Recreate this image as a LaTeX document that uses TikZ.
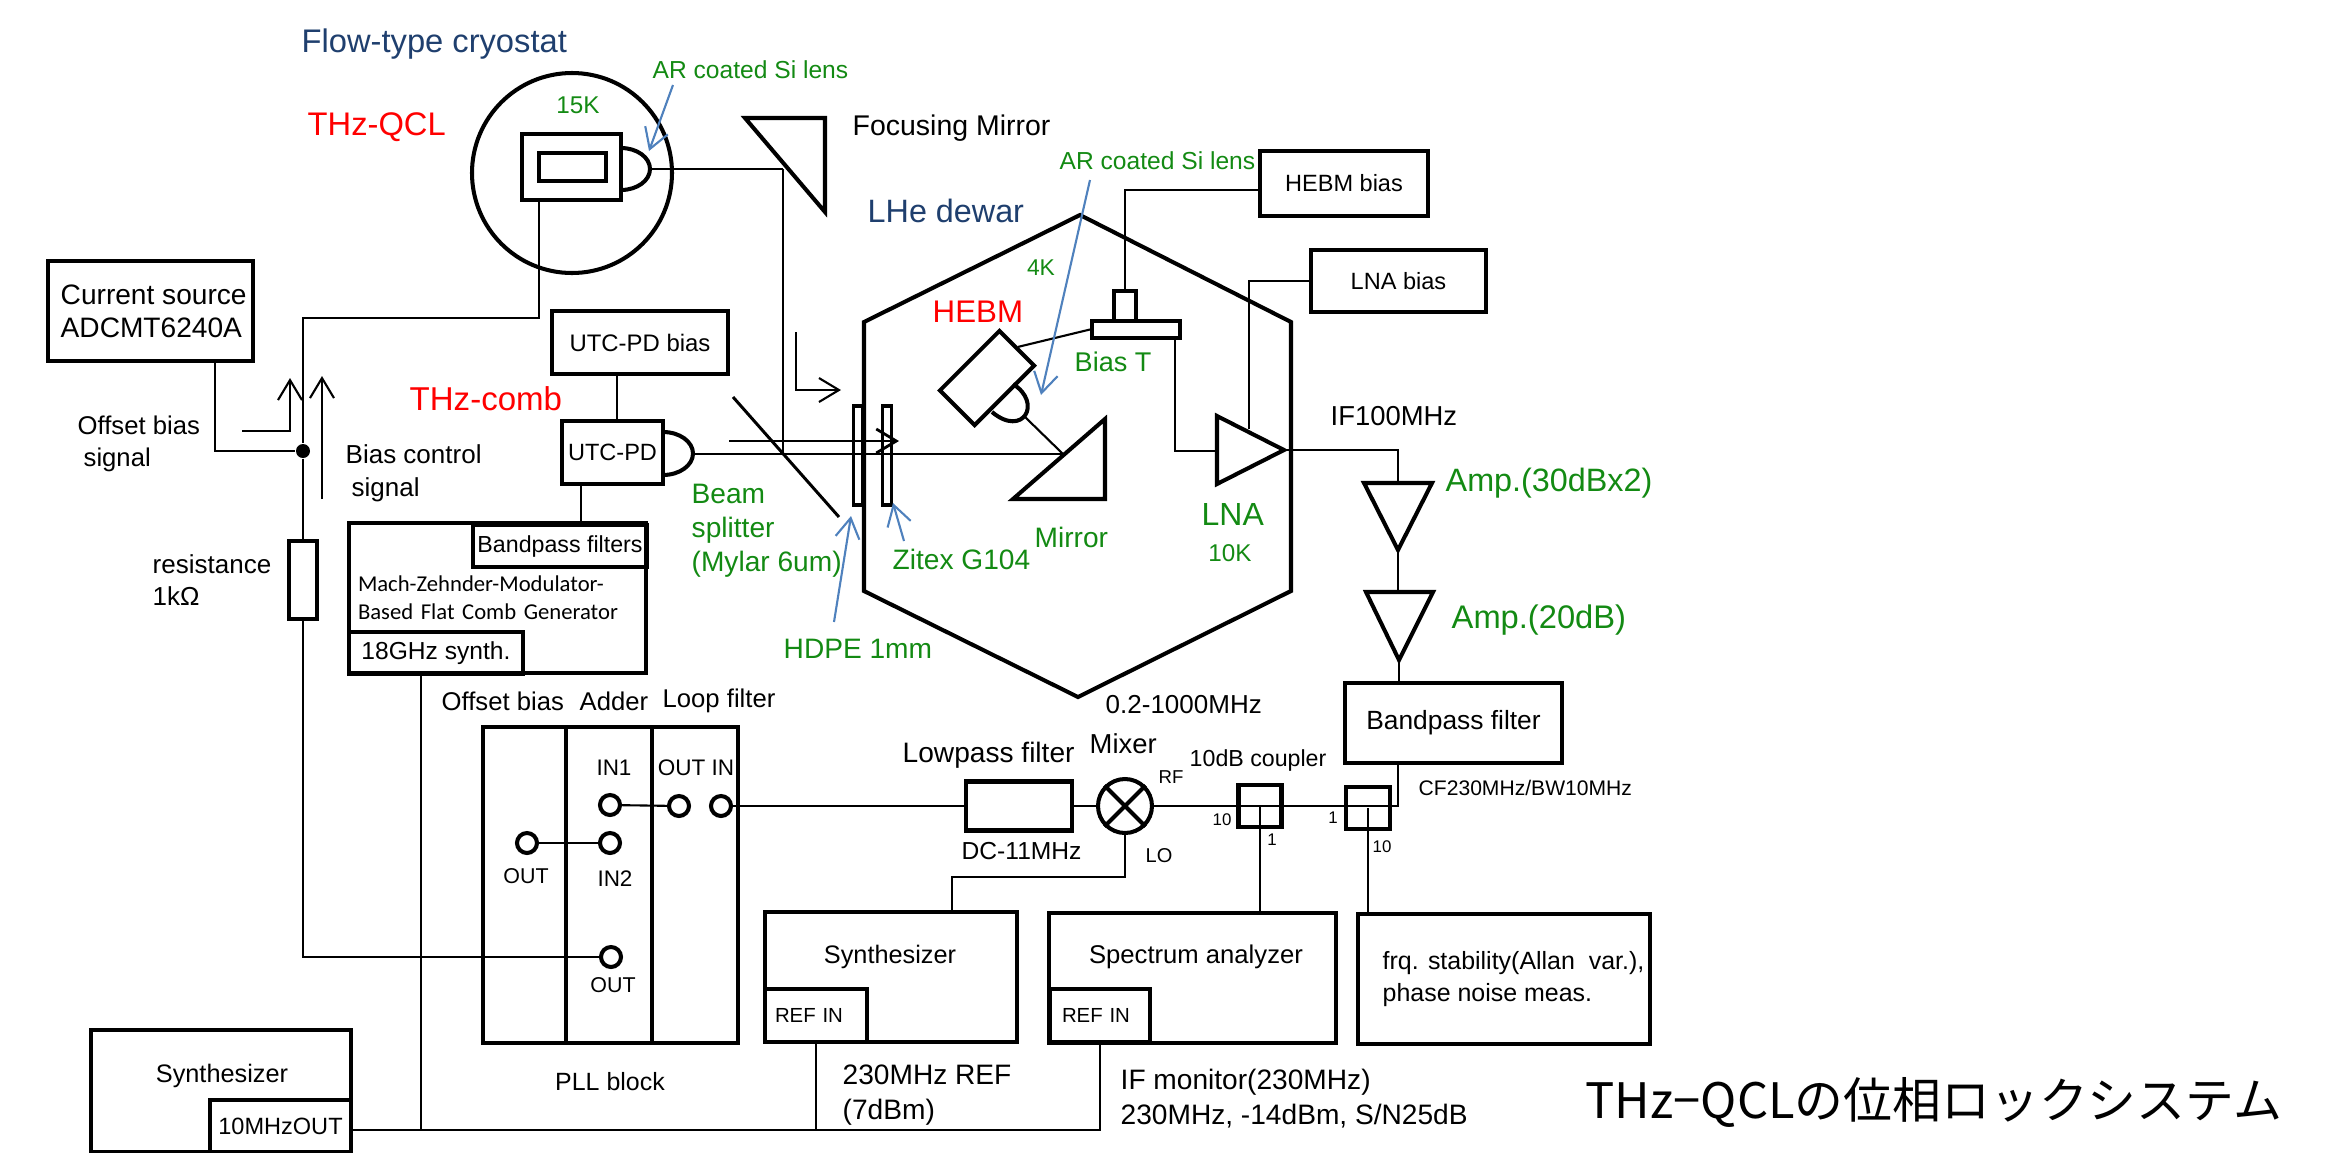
\documentclass[tikz,border=0pt]{standalone}
\usepackage{fontspec}
\setmainfont{Liberation Sans}
\newfontfamily\calfont{Carlito}
\newfontfamily\cjkfont{Noto Sans CJK JP}
\usetikzlibrary{arrows.meta}
\definecolor{QCLGreen}{HTML}{138A13}
\definecolor{QCLRed}{HTML}{FF0000}
\definecolor{QCLNavy}{HTML}{1F3F6E}
\definecolor{QCLBlue}{HTML}{4F81BD}

\begin{document}
\begin{tikzpicture}[x=0.1mm,y=-0.1mm,
    >={Straight Barb[length=2mm,width=2.4mm]},
    lbl/.style={font=\fontsize{#1}{#1}\selectfont,inner sep=0pt,anchor=west,align=left},
    ctr/.style={font=\fontsize{#1}{#1}\selectfont,inner sep=0pt,align=center},
    blk/.style={draw,line width=1.15pt,inner sep=0pt,align=center},
    thk/.style={line width=1.15pt},
    wire/.style={line width=0.6pt},
    sig/.style={->,line width=0.6pt},
    note/.style={->,color=QCLBlue,line width=0.6pt},
    port/.style={circle,draw,line width=1.15pt,minimum size=2mm,inner sep=0pt},
    grn/.style={text=QCLGreen},
    rdd/.style={text=QCLRed},
    nvy/.style={text=QCLNavy}]
  \useasboundingbox (0,0) rectangle (2346,1153);

  \node[lbl=9.3,nvy] (lcryo) at (301,44) {Flow-type cryostat};
  \node[lbl=7,grn] (llensa) at (652,70) {AR coated Si lens};
  \node[ctr=6.9,grn] (l15k) at (578,105) {15K};
  \node[lbl=9.3,rdd] (lqcl) at (307,127) {THz-QCL};
  \node[lbl=8.1] (lfocus) at (852,128) {Focusing Mirror};
  \node[lbl=9.2,nvy] (ldewar) at (867,211) {LHe dewar};
  \node[lbl=7,grn] (llensb) at (1059,161) {AR coated Si lens};
  \node[ctr=6.5,grn] (l4k) at (1041,268) {4K};
  \node[lbl=8.9,rdd] (lhebm) at (932,312) {HEBM};
  \node[lbl=9.4,rdd] (lcomb) at (409,399) {THz-comb};
  \node[lbl=7.7,grn] (lbiast) at (1074,362) {Bias T};
  \node[lbl=7.8] (lif) at (1330,416) {IF100MHz};
  \node[lbl=9.2,grn] (lampa) at (1445,483) {Amp.(30dBx2)};
  \node[lbl=9.3,grn] (lampb) at (1451,620) {Amp.(20dB)};
  \node[lbl=9.1,grn] (llna) at (1201,514) {LNA};
  \node[ctr=6.9,grn] (l10k) at (1230,553) {10K};
  \node[lbl=8,grn] (lmirror) at (1034,537) {Mirror};
  \node[lbl=8,grn] (lzitex) at (892,559) {Zitex G104};
  \node[lbl=8,grn] (lbeam) at (691,531) {Beam\\[1.7pt]splitter\\[1.7pt](Mylar 6um)};
  \node[lbl=8,grn] (lhdpe) at (783,649) {HDPE 1mm};
  \node[lbl=7.3] (loffset) at (77,444) {Offset bias\\[1.8pt]\hspace*{0.6mm}signal};
  \node[lbl=7.4] (lctrl) at (345,473) {Bias control\\[2pt]\hspace*{0.6mm}signal};
  \node[lbl=7.4] (lres) at (152,580) {resistance\\[1.5pt]1kΩ};
  \node[lbl=7.4] (lband) at (1105,705) {0.2-1000MHz};
  \node[lbl=7.3] (lofs) at (441,701) {Offset bias};
  \node[lbl=7.3] (ladd) at (579,701) {Adder};
  \node[lbl=7.3] (lloop) at (662,701) {Loop filter};
  \node[lbl=8] (llow) at (902,755) {Lowpass filter};
  \node[lbl=7.8] (lmix) at (1089,744) {Mixer};
  \node[lbl=6.6] (lcoup) at (1189,760) {10dB coupler};
  \node[lbl=5.3] (lrf) at (1158,777) {RF};
  \node[lbl=5.7] (llo) at (1145,856) {LO};
  \node[lbl=7] (ldc) at (961,851) {DC-11MHz};
  \node[lbl=6] (lcf) at (1418,788) {CF230MHz/BW10MHz};
  \node[ctr=4.8] (lca) at (1222,820) {10};
  \node[ctr=4.8] (lcb) at (1272,840) {1};
  \node[ctr=4.8] (lcc) at (1333,818) {1};
  \node[ctr=4.8] (lcd) at (1382,847) {10};
  \node[ctr=6.4] (lin1) at (614,768) {IN1};
  \node[ctr=6.4] (lloopio) at (696,768) {OUT IN};
  \node[ctr=6.1] (lout1) at (526,876) {OUT};
  \node[ctr=6.4] (lin2) at (615,879) {IN2};
  \node[ctr=6.1] (lout2) at (613,985) {OUT};
  \node[ctr=7.1] (lpll) at (610,1082) {PLL block};
  \node[lbl=8] (lrefa) at (842,1095) {230MHz REF\\[2pt](7dBm)};
  \node[lbl=8] (lmon) at (1120,1099) {IF monitor(230MHz)\\[2pt]230MHz, -14dBm, S/N25dB};
  \node[lbl=13.9] (ltitle) at (1585,1102) {\cjkfont THz−QCLの位相ロックシステム};

  \node[blk,minimum width=20.5mm,minimum height=10mm] (csrc) at (150.5,311) {};
  \node[lbl=8] (lcsrc) at (60,311) {Current source\\[1.4pt]ADCMT6240A};
  \draw[thk] (572,173) circle (10mm);
  \node[blk,minimum width=9.9mm,minimum height=6.6mm] (qcl) at (571.5,167) {};
  \node[blk,line width=1pt,minimum width=6.7mm,minimum height=2.8mm] (qclin) at (572.5,167) {};
  \draw[thk] (621,148) arc[start angle=90,end angle=-90,x radius=2.9mm,y radius=2.1mm];
  \coordinate (qcllens) at (650,169);
  \coordinate (fhit) at (783,169);
  \draw[thk] (745,118) -- (825,118) -- (825,212) -- cycle;

  \node[blk,minimum width=17.6mm,minimum height=6.3mm,font=\fontsize{6.8}{6.8}\selectfont] (utcbias) at (640,342.5) {UTC-PD bias};
  \node[blk,minimum width=10.1mm,minimum height=6.3mm,font=\fontsize{6.7}{6.7}\selectfont] (utcpd) at (612.5,452.5) {UTC-PD};
  \draw[thk] (663,432) arc[start angle=90,end angle=-90,x radius=3mm,y radius=2.15mm];
  \coordinate (utclens) at (693,454);
  \node[blk,minimum width=29.7mm,minimum height=15mm,text width=27.9mm,align=left,font=\calfont\fontsize{6.45}{6.45}\selectfont] (comb) at (497.5,598) {Mach-Zehnder-Modulator-\\[1.5pt]Based Flat Comb Generator};
  \node[blk,minimum width=17.4mm,minimum height=4.2mm,font=\fontsize{6.6}{6.6}\selectfont] (bpfs) at (560,546) {Bandpass filters};
  \node[blk,minimum width=17.4mm,minimum height=4.2mm,font=\fontsize{7}{7}\selectfont] (syn18) at (436,653) {18GHz synth.};
  \node[blk,minimum width=2.8mm,minimum height=7.8mm] (res) at (303,580) {};
  \node[circle,fill,minimum size=1.4mm,inner sep=0pt] (dot) at (303,451) {};
  \coordinate (bustop) at (303,318);

  \draw[thk] (1080,215) -- (1291,322) -- (1291,591) -- (1078,697) -- (864,591) -- (864,322) -- cycle;
  \node[draw,line width=0.9pt,minimum width=0.9mm,minimum height=9.9mm,inner sep=0pt] (hdpe) at (858,455.5) {};
  \node[draw,line width=0.9pt,minimum width=0.9mm,minimum height=9.9mm,inner sep=0pt] (zitex) at (887,455.5) {};
  \coordinate (splita) at (733,397);
  \coordinate (splitb) at (839,517);
  \draw[line width=0.85pt] (splita) -- (splitb);

  \node[blk,rotate=45,minimum width=8.4mm,minimum height=4.9mm] (hebm) at (987,378) {};
  \draw[thk] (1013,384) .. controls (1043,403) and (1023,438) .. (992,412);
  \coordinate (hlens) at (1024,416);
  \coordinate (mhit) at (1063,454);
  \draw[thk] (1105,419) -- (1105,499) -- (1013,499) -- cycle;
  \node[blk,minimum width=2.2mm,minimum height=3mm] (tstem) at (1125,306) {};
  \node[blk,minimum width=8.8mm,minimum height=1.7mm] (tbar) at (1136,329.5) {};
  \node[blk,minimum width=16.8mm,minimum height=6.5mm,font=\fontsize{6.7}{6.7}\selectfont] (hebmbias) at (1344,183.5) {HEBM bias};
  \node[blk,minimum width=17.5mm,minimum height=6.2mm,font=\fontsize{6.7}{6.7}\selectfont] (lnabias) at (1398.5,281) {LNA bias};
  \coordinate (lnatop) at (1249,429);
  \coordinate (lnain) at (1217,451);
  \coordinate (lnaout) at (1284,450);
  \draw[thk] (1217,416) -- (lnaout) -- (1217,484) -- cycle;

  \coordinate (ampa) at (1398,483);
  \coordinate (ampatip) at (1398,550);
  \coordinate (ampb) at (1398,592);
  \coordinate (ampbtip) at (1399,660);
  \draw[thk] (1364,483) -- (1432,483) -- (ampatip) -- cycle;
  \draw[thk] (1366,592) -- (1433,592) -- (ampbtip) -- cycle;
  \node[blk,minimum width=21.7mm,minimum height=8mm,font=\fontsize{7.5}{7.5}\selectfont] (bpf) at (1453.5,723) {Bandpass filter};

  \node[blk,minimum width=8.3mm,minimum height=31.6mm] (plla) at (524.5,885) {};
  \node[blk,minimum width=8.6mm,minimum height=31.6mm] (pllb) at (609,885) {};
  \node[blk,minimum width=8.6mm,minimum height=31.6mm] (pllc) at (695,885) {};
  \node[port] (pin1) at (610,805) {};
  \node[port] (plout) at (679,806) {};
  \node[port] (plin) at (721,806) {};
  \node[port] (pofs) at (527,843) {};
  \node[port] (pin2) at (610,843) {};
  \node[port] (pout) at (611,957) {};

  \node[blk,minimum width=10.6mm,minimum height=4.9mm] (lpf) at (1019,806) {};
  \node[circle,draw,line width=1.15pt,minimum size=5.4mm,inner sep=0pt] (mixer) at (1125,806) {};
  \draw[thk] (mixer.45) -- (mixer.225) (mixer.135) -- (mixer.315);
  \node[blk,minimum width=4.3mm,minimum height=4.2mm] (cpa) at (1260,806) {};
  \node[blk,minimum width=4.4mm,minimum height=4.2mm] (cpb) at (1368,808) {};

  \node[blk,minimum width=25.2mm,minimum height=13mm] (syn) at (891,977) {};
  \node[ctr=7.2] (lsyn) at (890,957) {Synthesizer};
  \node[blk,minimum width=10.2mm,minimum height=5.3mm,text width=8.2mm,align=left,font=\fontsize{5.8}{5.8}\selectfont] (synref) at (816,1015.5) {REF IN};
  \node[blk,minimum width=28.7mm,minimum height=13mm] (sa) at (1192.5,978) {};
  \node[ctr=7.3] (lsa) at (1196,957) {Spectrum analyzer};
  \node[blk,minimum width=10mm,minimum height=5.3mm,text width=7.6mm,align=left,font=\fontsize{5.8}{5.8}\selectfont] (saref) at (1100,1015.5) {REF IN};
  \node[blk,minimum width=29.2mm,minimum height=13mm] (frq) at (1504,979) {};
  \node[lbl=7.1] (lfrq) at (1382,979) {frq. stability(Allan\ \ var.),\\[2pt]phase noise meas.};
  \node[blk,minimum width=26mm,minimum height=12.2mm] (synb) at (221,1091) {};
  \node[ctr=7.2] (lsynb) at (222,1076) {Synthesizer};
  \node[blk,minimum width=14.1mm,minimum height=5.2mm,font=\fontsize{6.7}{6.7}\selectfont] (clk) at (280.5,1126) {10MHzOUT};
  \coordinate (clkbus) at ([yshift=-0.4mm]clk.east);
  \coordinate (lobend) at (952,877);

  \draw[wire] (qcllens) -- (fhit);
  \draw[wire] (fhit) -- (fhit |- utclens);
  \draw[wire] (utclens) -- (mhit);
  \draw[wire] (hlens) -- (mhit);
  \draw[wire] ([xshift=-3.25mm]qcl.south) |- (bustop) -- (dot);
  \draw[wire] ([xshift=6.45mm]csrc.south) |- (dot);
  \draw[wire] (dot) -- (res);
  \draw[wire] (res) |- (pout);
  \draw[wire] ([xshift=-2.3mm]utcbias.south) -- ([xshift=-2.3mm]utcbias.south |- utcpd.north);
  \draw[wire] ([xshift=-3.15mm]utcpd.south) -- ([xshift=-3.15mm]utcpd.south |- comb.north);
  \draw[wire] ([yshift=-0.65mm]hebmbias.west) -| (tstem);
  \draw[wire] (tbar.west) -- (hebm.east);
  \draw[wire] ([xshift=3.9mm]tbar.south) |- (lnain);
  \draw[wire] (lnabias.west) -| (lnatop);
  \draw[wire] (lnaout) -| (ampa);
  \draw[wire] (ampatip) -- (ampb);
  \draw[wire] (ampbtip) -- (ampbtip |- bpf.north);
  \draw[wire] (mixer.east) -| ([xshift=-5.55mm]bpf.south);
  \draw[wire] (pin1) -- (plout);
  \draw[wire] (pofs) -- (pin2);
  \draw[wire] (plin) -- (lpf);
  \draw[wire] (lpf) -- (mixer);
  \draw[wire] (cpa.center) -- (cpa.center |- sa.north);
  \draw[wire] (cpb.center) -- (cpb.center |- frq.north);
  \draw[wire] (mixer.south) |- (lobend) -- (lobend |- syn.north);
  \draw[wire] (clkbus) -| (saref.south);
  \draw[wire] ([xshift=-1.5mm]syn18.south) |- (clkbus);
  \draw[wire] (synref.south) |- (clkbus);

  \coordinate (ofsa) at (242,431);
  \coordinate (ofsb) at (290,431);
  \coordinate (ofsc) at (290,378);
  \coordinate (ctla) at (322,499);
  \coordinate (ctlb) at (322,376);
  \coordinate (bmla) at (729,441);
  \coordinate (bmlb) at (899,441);
  \coordinate (bmsa) at (796,332);
  \coordinate (bmsb) at (796,390);
  \coordinate (bmsc) at (841,390);
  \draw[sig] (ofsa) -- (ofsb) -- (ofsc);
  \draw[sig] (ctla) -- (ctlb);
  \draw[sig,line width=0.8pt] (bmla) -- (bmlb);
  \draw[sig] (bmsa) -- (bmsb) -- (bmsc);

  \coordinate (nta) at (673,85);
  \coordinate (ntb) at (649,151);
  \coordinate (ntc) at (1090,180);
  \coordinate (ntd) at (1041,395);
  \coordinate (nte) at (834,622);
  \coordinate (ntf) at (851,516);
  \coordinate (ntg) at (904,541);
  \coordinate (nth) at (893,503);
  \draw[note] (nta) -- (ntb);
  \draw[note] (ntc) -- (ntd);
  \draw[note] (nte) -- (ntf);
  \draw[note] (ntg) -- (nth);
\end{tikzpicture}
\end{document}
